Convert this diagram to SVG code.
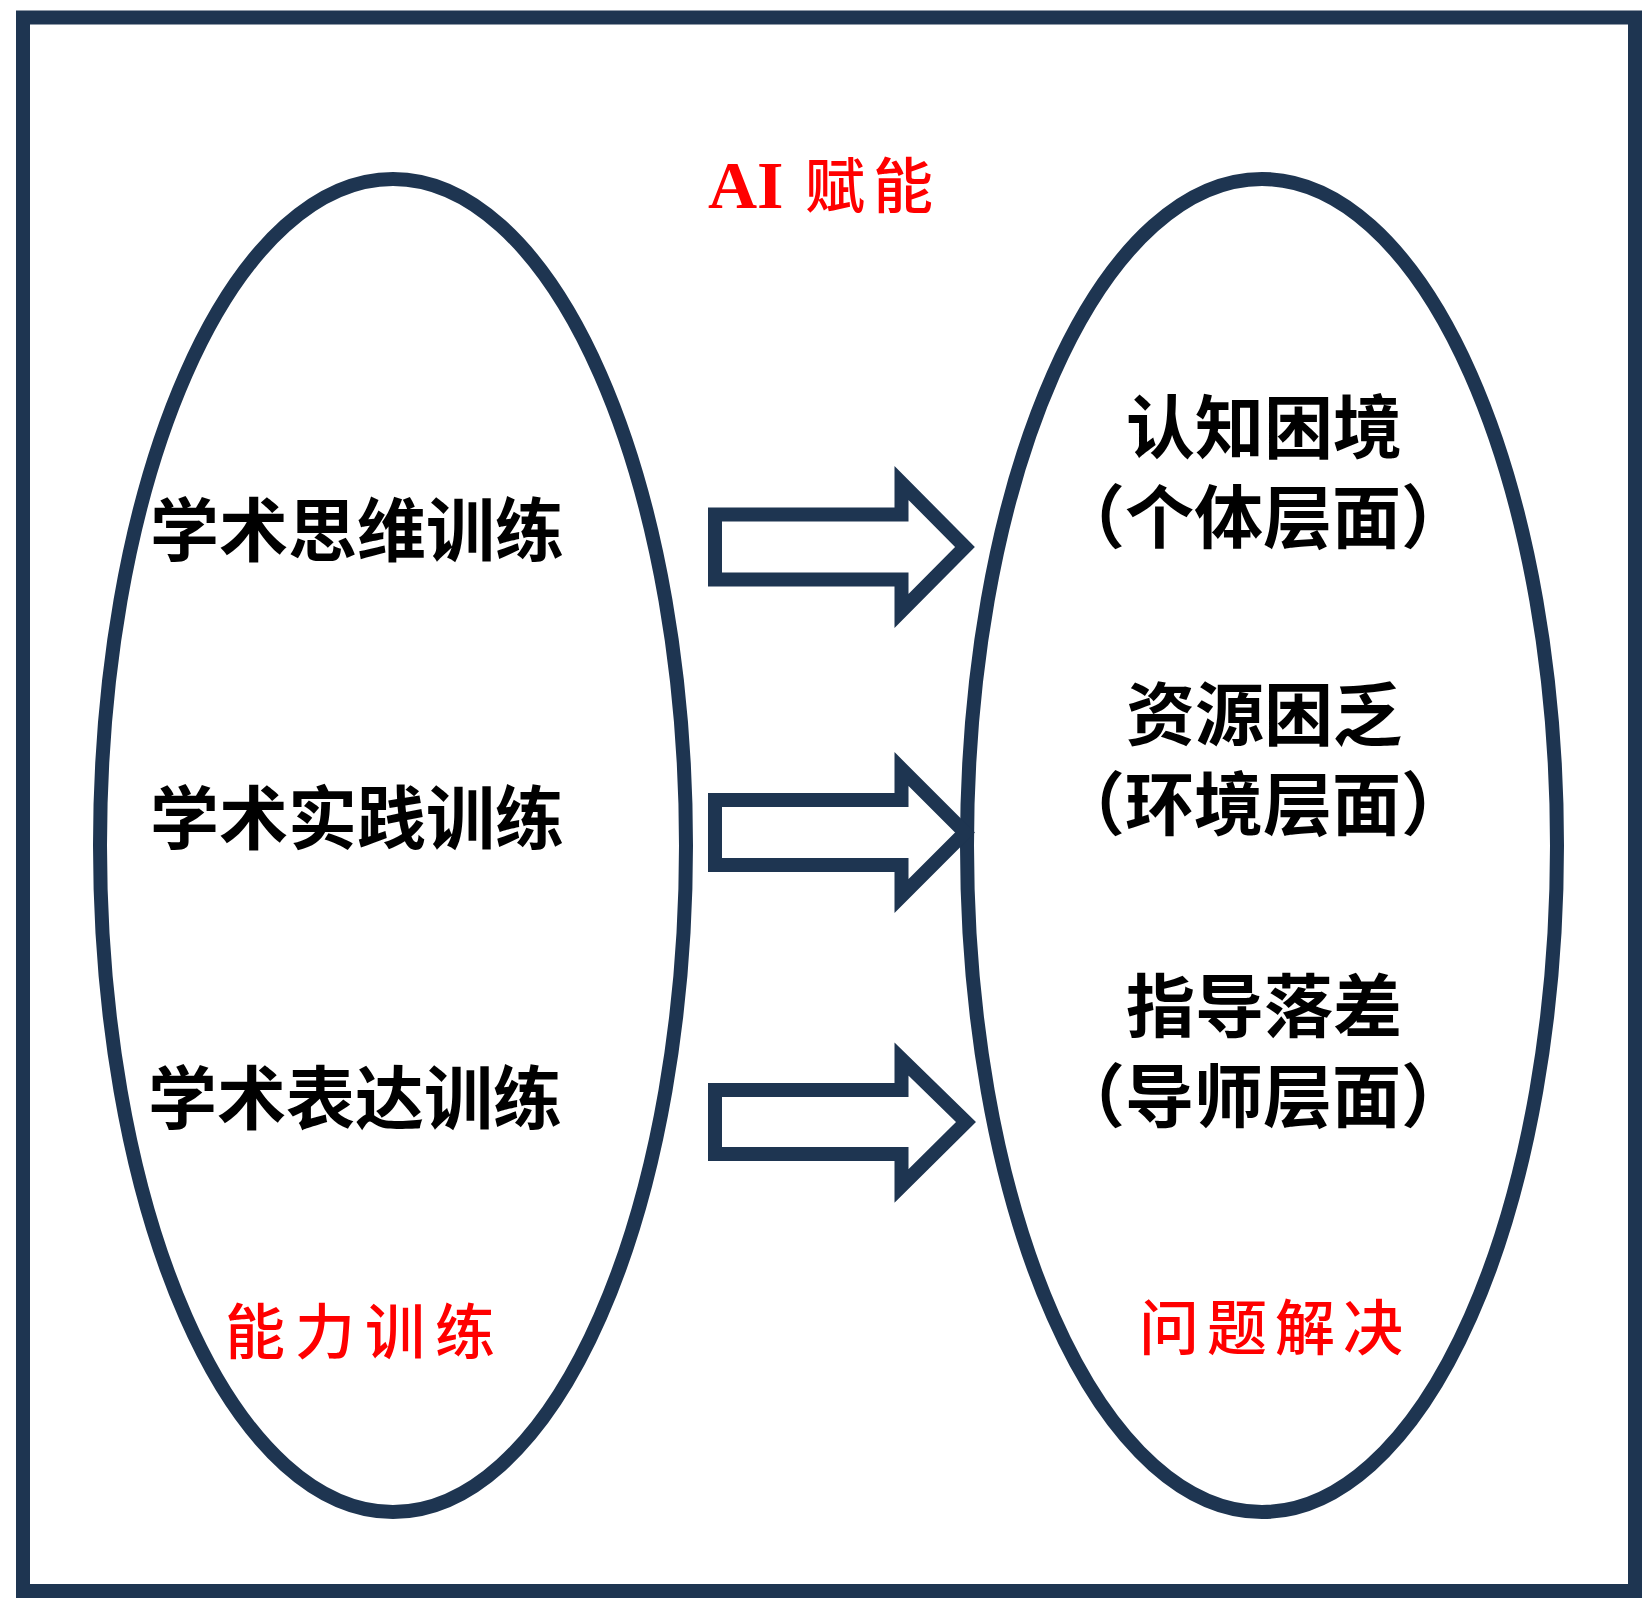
<svg xmlns="http://www.w3.org/2000/svg" width="1651" height="1612" viewBox="0 0 1651 1612">
<style>
.line{fill:none;stroke:#1e3551;stroke-width:14}
.arrow{fill:#ffffff;stroke:#1e3551;stroke-width:14;stroke-linejoin:miter}
.blk{font-family:"Noto Sans CJK SC","Noto Sans",sans-serif;font-size:69px;font-weight:700;fill:#000}
.red{font-family:"Noto Sans CJK SC","Noto Sans",sans-serif;font-size:60px;font-weight:500;fill:#ff0000}
.ai{font-family:"Liberation Serif",serif;font-size:68px;font-weight:700;fill:#ff0000}
</style>
<rect x="0" y="0" width="1651" height="1612" fill="#ffffff"/>
<rect id="frame" class="line" x="23" y="17.5" width="1612" height="1573.5"/>
<g id="title">
<text x="708" y="208"><tspan class="ai">AI</tspan><tspan class="red" letter-spacing="8"> 赋能</tspan></text>
</g>
<g id="left-node">
<ellipse class="line" cx="393" cy="845.5" rx="293" ry="666.5"/>
<text class="blk" x="150" y="556">学术思维训练</text>
<text class="blk" x="150" y="844">学术实践训练</text>
<text class="blk" x="148" y="1124">学术表达训练</text>
<text class="red" x="225" y="1354" letter-spacing="10">能力训练</text>
</g>
<g id="right-node">
<ellipse class="line" cx="1262" cy="845.5" rx="295" ry="666.5"/>
<text class="blk" x="1264" y="453" text-anchor="middle">认知困境</text>
<text class="blk" x="1263" y="543" text-anchor="middle">（个体层面）</text>
<text class="blk" x="1264" y="740" text-anchor="middle">资源困乏</text>
<text class="blk" x="1263" y="830" text-anchor="middle">（环境层面）</text>
<text class="blk" x="1264" y="1032" text-anchor="middle">指导落差</text>
<text class="blk" x="1263" y="1122" text-anchor="middle">（导师层面）</text>
<text class="red" x="1139" y="1350" letter-spacing="8">问题解决</text>
</g>
<g id="connectors">
<polygon class="arrow" points="715,514.5 901.5,514.5 901.5,483 965,547 901.5,611 901.5,579.5 715,579.5"/>
<polygon class="arrow" points="715,800 901.5,800 901.5,769 965,832.5 901.5,896 901.5,865 715,865"/>
<polygon class="arrow" points="715,1090 901.5,1090 901.5,1059 966,1122 901.5,1186 901.5,1154 715,1154"/>
</g>
</svg>
